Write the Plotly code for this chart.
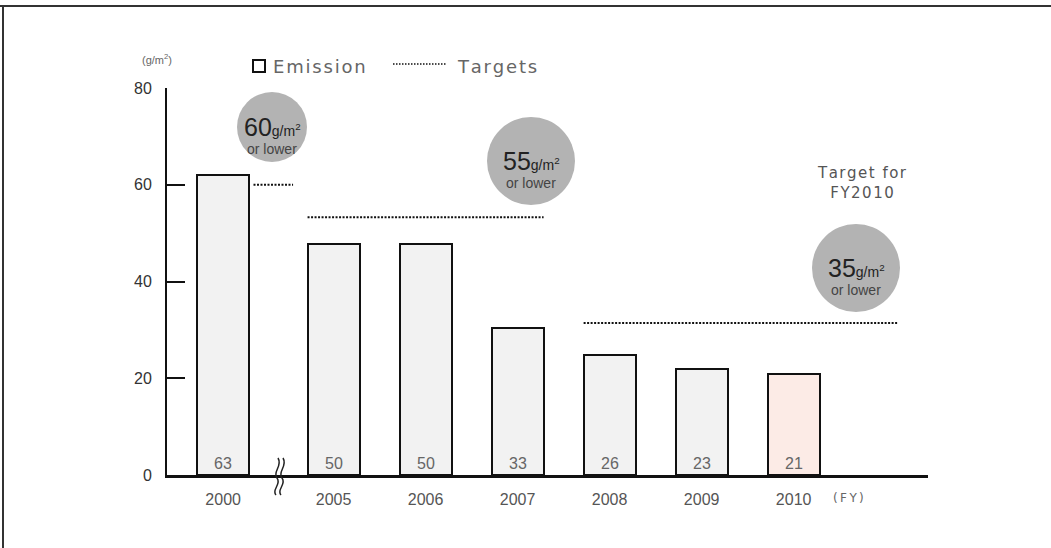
import plotly.graph_objects as go

# ---------------- data ----------------
years = ["2000", "2005", "2006", "2007", "2008", "2009", "2010"]
bar_heights = [62, 47.8, 47.8, 30.3, 24.8, 21.9, 20.9]      # drawn heights
bar_labels = ["63", "50", "50", "33", "26", "23", "21"]       # printed values
bar_colors = ["#f2f2f2", "#f2f2f2", "#f2f2f2", "#f2f2f2", "#f2f2f2", "#f2f2f2", "#fcebe6"]

target_values = [60, 53.3, 31.4]
target_labels = ["60", "55", "35"]

y_ticks = [0, 20, 40, 60, 80]

# ---------------- layout helpers ----------------
W, H = 1051, 548
L, R, T, B = 167, 928, 88, 475

def px(x):
    return (x - L) / (R - L)

def py(y):
    return (B - y) / (B - T)

HS = "\u200a"  # hair space for the widely spaced label text

def spaced(s):
    return HS.join(s)

# category positions on a numeric axis (gap after 2000 for the axis break)
positions = [0.0] + [1.2 + i for i in range(len(years) - 1)]
bar_w = 0.565
# target spans in axis units
target_spans = [(0.33, 0.76), (positions[1] - bar_w / 2, positions[3] + bar_w / 2),
                (positions[4] - bar_w / 2, 7.33)]

fig = go.Figure()

fig.add_trace(go.Bar(
    x=positions, y=bar_heights, width=bar_w,
    marker=dict(color=bar_colors, line=dict(color="#111111", width=2)),
    text=bar_labels, textposition="inside", insidetextanchor="start",
    textangle=0, constraintext="none",
    textfont=dict(family="Liberation Sans, Arial", size=16, color="#666666"),
    hoverinfo="skip", showlegend=False,
))

for (x0, x1), v in zip(target_spans, target_values):
    fig.add_trace(go.Scatter(
        x=[x0, x1], y=[v, v], mode="lines",
        line=dict(color="#111111", width=2, dash="2px,1.5px"),
        hoverinfo="skip", showlegend=False,
    ))

shapes = []
annotations = []

# outer frame (top & left edges)
shapes.append(dict(type="line", xref="paper", yref="paper",
                   x0=px(0), x1=px(W), y0=py(6), y1=py(6),
                   line=dict(color="#333333", width=2)))
shapes.append(dict(type="line", xref="paper", yref="paper",
                   x0=px(3), x1=px(3), y0=py(6), y1=py(H),
                   line=dict(color="#333333", width=2)))

# legend
shapes.append(dict(type="rect", xref="paper", yref="paper",
                   x0=px(253), x1=px(265), y0=py(60), y1=py(72),
                   line=dict(color="#111111", width=2), fillcolor="white"))
annotations.append(dict(xref="paper", yref="paper", x=px(271), y=py(66),
                        text=spaced("Emission"), showarrow=False, xanchor="left", yanchor="middle",
                        font=dict(family="DejaVu Sans", size=18, color="#666666")))
shapes.append(dict(type="line", xref="paper", yref="paper",
                   x0=px(393), x1=px(447), y0=py(64), y1=py(64),
                   line=dict(color="#111111", width=1.5, dash="1.5px,1.5px")))
annotations.append(dict(xref="paper", yref="paper", x=px(455), y=py(66),
                        text=spaced("Targets"), showarrow=False,
                        xanchor="left", yanchor="middle",
                        font=dict(family="DejaVu Sans", size=18, color="#666666")))

# unit label
annotations.append(dict(xref="paper", yref="paper", x=px(140), y=py(60),
                        text="(g/m<sup>2</sup>)", showarrow=False, yanchor="bottom",
                        yshift=-8,
                        font=dict(family="Liberation Sans, Arial", size=11, color="#666666")))

# target circles
circles = [(272, 127, 35), (531, 161, 44), (856, 268, 44)]
for (cx, cy, r), lab in zip(circles, target_labels):
    shapes.append(dict(type="circle", xref="paper", yref="paper",
                       x0=px(cx - r), x1=px(cx + r), y0=py(cy + r), y1=py(cy - r),
                       line=dict(width=0), fillcolor="#b3b3b3", layer="above"))
    annotations.append(dict(xref="paper", yref="paper", x=px(cx), y=py(cy),
                            text=f"<span style='font-size:25px'>{lab}</span>"
                                 f"<span style='font-size:14px'>g/m<sup>2</sup></span>",
                            showarrow=False, xanchor="center", yanchor="middle",
                            font=dict(family="Liberation Sans, Arial", size=14, color="#222222")))
    annotations.append(dict(xref="paper", yref="paper", x=px(cx), y=py(cy + 22),
                            text="or lower", showarrow=False, xanchor="center", yanchor="middle",
                            font=dict(family="Liberation Sans, Arial", size=14, color="#444444")))

annotations.append(dict(xref="paper", yref="paper", x=px(862), y=py(183),
                        text=spaced("Target for") + "<br>" + spaced("FY2010"), showarrow=False,
                        xanchor="center", yanchor="middle",
                        font=dict(family="DejaVu Sans", size=15, color="#555555")))

# FY label
annotations.append(dict(xref="paper", yref="paper", x=px(866), y=py(498),
                        text="(\u2009F\u2009Y\u2009)", showarrow=False, yanchor="top",
                        yshift=9,
                        font=dict(family="DejaVu Sans", size=12, color="#666666")))

# axis break symbol
for dx in (0, 5):
    x0 = 276 + dx
    path = (f"M {px(x0 + 2)},{py(458)} "
            f"C {px(x0 + 7)},{py(466)} {px(x0 - 4)},{py(472)} {px(x0 + 1)},{py(478)} "
            f"C {px(x0 + 6)},{py(484)} {px(x0 - 5)},{py(490)} {px(x0)},{py(495)}")
    shapes.append(dict(type="path", xref="paper", yref="paper", path=path,
                       line=dict(color="#222222", width=1.5)))

fig.update_layout(
    width=W, height=H,
    margin=dict(l=L, r=W - R, t=T, b=H - B),
    paper_bgcolor="white", plot_bgcolor="white",
    shapes=shapes, annotations=annotations,
    showlegend=False, bargap=0,
)

fig.update_xaxes(
    range=[-0.61, 7.66], tickvals=positions, ticktext=years,
    showgrid=False, zeroline=False, showline=True, linecolor="#111111", linewidth=3,
    ticks="", ticklabelstandoff=8,
    tickfont=dict(family="Liberation Sans, Arial", size=16, color="#555555"),
    fixedrange=True,
)
fig.update_yaxes(
    range=[0, 80], tickvals=y_ticks, ticktext=[str(v) for v in y_ticks],
    showgrid=False, zeroline=False, showline=True, linecolor="#111111", linewidth=2,
    ticks="inside", ticklen=18, tickwidth=2, tickcolor="#111111",
    ticklabelstandoff=10,
    tickfont=dict(family="Liberation Sans, Arial", size=16, color="#333333"),
    fixedrange=True,
)

fig.write_html("out.html")
